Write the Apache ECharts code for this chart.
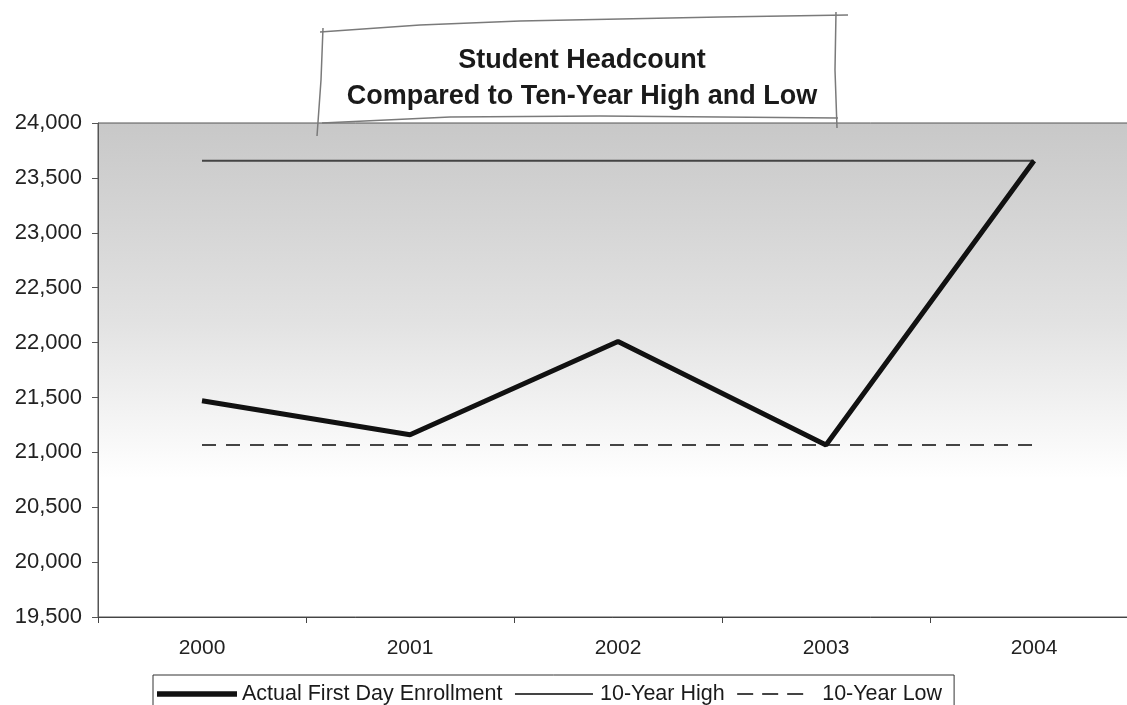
<!DOCTYPE html>
<html>
<head>
<meta charset="utf-8">
<script src="https://cdn.jsdelivr.net/npm/echarts@6/dist/echarts.min.js"></script>
<style>html,body{margin:0;padding:0;background:#fff;}#c{width:1127px;height:705px;}</style>
</head>
<body>
<div id="c"></div>
<script>
const years = ['2000', '2001', '2002', '2003', '2004'];
const actualEnrollment = [21470, 21160, 22010, 21066, 23657];
const tenYearHigh = [23657, 23657, 23657, 23657, 23657];
const tenYearLow = [21066, 21066, 21066, 21066, 21066];
const yTicks = { min: 19500, max: 24000, interval: 500 };
const titleLines = ['Student Headcount', 'Compared to Ten-Year High and Low'];
const seriesNames = ['Actual First Day Enrollment', '10-Year High', '10-Year Low'];

const chart = echarts.init(document.getElementById('c'));
const FONT = '"Liberation Sans", Arial, sans-serif';
const sketch = { stroke: '#7a7a7a', lineWidth: 1.5, fill: null };
const BOX = 'M0,0L0,0M80,14L80,14';
const legendIcons = [
  'path://' + BOX + 'M0,4.3H80V9.7H0Z',
  'path://' + BOX + 'M0,6H78V8H0Z',
  'path://' + BOX + 'M0,6H16V8H0Z M25,6H41V8H25Z M50,6H66V8H50Z'
];
chart.setOption({
  animation: false,
  backgroundColor: '#fff',
  title: {
    text: titleLines.join('\n'),
    left: 577, top: 38, textAlign: 'center',
    textStyle: { fontFamily: FONT, fontSize: 27, fontWeight: 'bold', color: '#1a1a1a', lineHeight: 36 }
  },
  graphic: [
    { type: 'polyline', z: 100, shape: { points: [[320,32],[420,25],[520,21],[620,19],[720,17],[848,15]] }, style: sketch },
    { type: 'polyline', z: 100, shape: { points: [[323,28],[321,80],[317,136]] }, style: sketch },
    { type: 'polyline', z: 100, shape: { points: [[836,12],[835,70],[837,128]] }, style: sketch },
    { type: 'polyline', z: 100, shape: { points: [[322,123],[450,117],[600,116],[720,117],[838,118]] }, style: sketch }
  ],
  grid: {
    left: 98, top: 123, width: 1040, height: 494,
    outerBoundsMode: 'none',
    containLabel: false,
    show: true,
    borderColor: '#555', borderWidth: 1,
    backgroundColor: new echarts.graphic.LinearGradient(0, 0, 0, 1, [
      { offset: 0, color: '#c8c8c8' },
      { offset: 0.4, color: '#e2e2e2' },
      { offset: 0.72, color: '#ffffff' },
      { offset: 1, color: '#ffffff' }
    ])
  },
  legend: {
    top: 675, left: 153,
    data: seriesNames.map((n, i) => ({ name: n, icon: legendIcons[i] })),
    itemWidth: 80, itemHeight: 14, itemGap: 12.5,
    symbolKeepAspect: true,
    itemStyle: { borderWidth: 0 },
    backgroundColor: '#fff', borderColor: '#333', borderWidth: 1,
    padding: [8, 12, 12, 4],
    textStyle: { fontFamily: FONT, fontSize: 21.5, color: '#1a1a1a' }
  },
  xAxis: {
    type: 'category', data: years, boundaryGap: true,
    axisLine: { lineStyle: { color: '#444', width: 1 } },
    axisTick: { show: true, length: 6, lineStyle: { color: '#444' } },
    axisLabel: { fontFamily: FONT, fontSize: 21, color: '#222', margin: 21 },
    splitLine: { show: false }
  },
  yAxis: {
    type: 'value', min: yTicks.min, max: yTicks.max, interval: yTicks.interval,
    axisLine: { show: true, lineStyle: { color: '#555', width: 1 } },
    axisTick: { show: true, length: 6, lineStyle: { color: '#555' } },
    axisLabel: { fontFamily: FONT, fontSize: 22, color: '#222', margin: 16,
      formatter: v => v.toLocaleString('en-US') },
    splitLine: { show: false }
  },
  series: [
    { name: seriesNames[0], type: 'line', data: actualEnrollment, symbol: 'none', z: 5,
      lineStyle: { color: '#111', width: 5 }, itemStyle: { color: '#111' } },
    { name: seriesNames[1], type: 'line', data: tenYearHigh, symbol: 'none', z: 4,
      lineStyle: { color: '#444', width: 2 }, itemStyle: { color: '#444' } },
    { name: seriesNames[2], type: 'line', data: tenYearLow, symbol: 'none', z: 4,
      lineStyle: { color: '#444', width: 2, type: [14, 10] }, itemStyle: { color: '#444' } }
  ]
});
</script>
</body>
</html>
